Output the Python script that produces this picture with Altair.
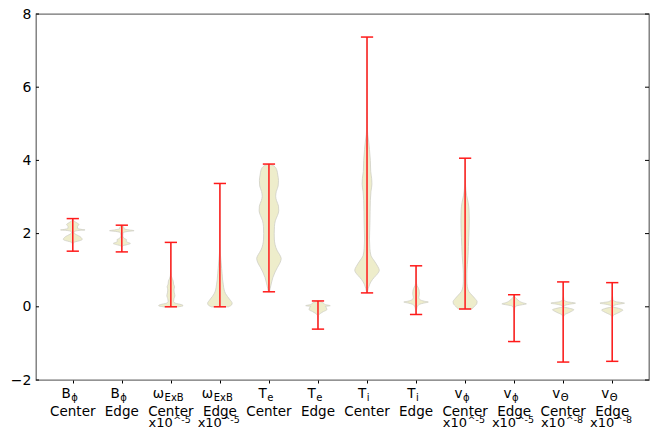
import altair as alt
import pandas as pd

# ---- data ----
BASE = ["B", "B", "ω", "ω", "T", "T", "T", "T", "v", "v", "v", "v"]
SUB = ["ϕ", "ϕ", "ExB", "ExB", "e", "e", "i", "i", "ϕ", "ϕ", "Θ", "Θ"]
LOC = ["Center", "Edge", "Center", "Edge", "Center", "Edge",
       "Center", "Edge", "Center", "Edge", "Center", "Edge"]
MULT = ["", "", "x10^-5", "x10^-5", "", "", "", "", "x10^-5", "x10^-5", "x10^-8", "x10^-8"]
POS = [1, 2, 3, 4, 5, 6, 7, 8, 9, 10, 11, 12]

VMAX = [2.41, 2.23, 1.76, 3.37, 3.90, 0.16, 7.37, 1.12, 4.06, 0.33, 0.68, 0.66]
VMIN = [1.52, 1.50, 0.00, 0.00, 0.41, -0.61, 0.38, -0.21, -0.06, -0.95, -1.51, -1.49]

# violin outlines: value (y) and relative half-width (w, 1 = widest)
PROFILE_Y = [
    [2.41, 2.36, 2.30, 2.25, 2.19, 2.14, 2.11, 2.10, 2.09, 2.06, 2.02, 1.97, 1.92, 1.87, 1.84, 1.81, 1.78, 1.75, 1.65, 1.52],
    [2.23, 2.18, 2.13, 2.10, 2.08, 2.06, 2.02, 1.95, 1.88, 1.83, 1.79, 1.76, 1.73, 1.70, 1.66, 1.58, 1.50],
    [1.76, 1.40, 1.00, 0.85, 0.78, 0.70, 0.62, 0.55, 0.46, 0.38, 0.30, 0.22, 0.15, 0.10, 0.06, 0.03, 0.00],
    [3.37, 2.50, 2.00, 1.50, 1.28, 1.05, 0.90, 0.73, 0.60, 0.46, 0.37, 0.28, 0.18, 0.10, 0.05, 0.00],
    [3.90, 3.85, 3.75, 3.60, 3.45, 3.30, 3.15, 3.02, 2.90, 2.75, 2.62, 2.50, 2.35, 2.20, 2.00, 1.85, 1.70, 1.55, 1.42, 1.32, 1.20, 1.08, 0.95, 0.80, 0.65, 0.50, 0.41],
    [0.16, 0.13, 0.10, 0.06, 0.03, 0.01, -0.03, -0.08, -0.13, -0.18, -0.24, -0.35, -0.61],
    [7.37, 6.00, 5.00, 4.70, 4.50, 4.30, 4.00, 3.70, 3.50, 3.35, 3.15, 2.90, 2.60, 2.35, 2.10, 1.85, 1.60, 1.40, 1.25, 1.10, 1.00, 0.90, 0.80, 0.70, 0.60, 0.50, 0.38],
    [1.12, 0.90, 0.70, 0.58, 0.50, 0.42, 0.34, 0.26, 0.20, 0.15, 0.13, 0.10, 0.07, 0.03, -0.02, -0.10, -0.21],
    [4.06, 3.60, 3.30, 3.05, 2.85, 2.65, 2.40, 2.15, 1.90, 1.65, 1.40, 1.15, 0.90, 0.70, 0.55, 0.42, 0.32, 0.22, 0.14, 0.08, 0.02, -0.06],
    [0.33, 0.28, 0.22, 0.16, 0.11, 0.08, 0.05, 0.02, -0.05, -0.30, -0.95],
    [0.68, 0.40, 0.20, 0.14, 0.10, 0.07, 0.03, 0.00, -0.04, -0.08, -0.12, -0.17, -0.22, -0.30, -0.80, -1.51],
    [0.66, 0.40, 0.20, 0.14, 0.10, 0.07, 0.03, 0.00, -0.04, -0.09, -0.13, -0.18, -0.23, -0.30, -0.80, -1.49],
]
PROFILE_W = [
    [0.0, 0.05, 0.30, 0.50, 0.38, 0.40, 0.80, 1.00, 0.60, 0.15, 0.10, 0.30, 0.58, 0.74, 0.77, 0.60, 0.25, 0.05, 0.01, 0.0],
    [0.0, 0.15, 0.20, 0.60, 1.00, 0.50, 0.10, 0.08, 0.15, 0.40, 0.35, 0.50, 0.70, 0.45, 0.05, 0.01, 0.0],
    [0.0, 0.005, 0.01, 0.04, 0.10, 0.20, 0.22, 0.30, 0.25, 0.28, 0.33, 0.25, 0.22, 0.35, 0.85, 1.00, 0.60],
    [0.0, 0.005, 0.01, 0.03, 0.08, 0.14, 0.18, 0.22, 0.28, 0.35, 0.45, 0.62, 0.85, 1.00, 0.95, 0.70],
    [0.05, 0.40, 0.63, 0.72, 0.78, 0.75, 0.60, 0.55, 0.62, 0.78, 0.80, 0.70, 0.52, 0.45, 0.43, 0.44, 0.50, 0.65, 0.88, 1.00, 0.90, 0.70, 0.50, 0.32, 0.20, 0.10, 0.04],
    [0.0, 0.30, 0.45, 0.60, 1.00, 0.60, 0.70, 0.72, 0.45, 0.20, 0.04, 0.01, 0.0],
    [0.0, 0.005, 0.02, 0.06, 0.14, 0.20, 0.27, 0.30, 0.38, 0.40, 0.32, 0.27, 0.25, 0.24, 0.22, 0.20, 0.23, 0.32, 0.60, 0.88, 1.00, 0.85, 0.58, 0.35, 0.20, 0.10, 0.02],
    [0.0, 0.005, 0.02, 0.08, 0.20, 0.26, 0.27, 0.22, 0.30, 0.70, 1.00, 0.60, 0.30, 0.15, 0.08, 0.03, 0.0],
    [0.0, 0.01, 0.04, 0.12, 0.25, 0.32, 0.34, 0.33, 0.30, 0.27, 0.24, 0.18, 0.14, 0.14, 0.18, 0.30, 0.55, 0.82, 0.98, 0.95, 0.78, 0.55],
    [0.0, 0.05, 0.20, 0.40, 0.70, 1.00, 0.55, 0.15, 0.04, 0.01, 0.0],
    [0.0, 0.01, 0.05, 0.30, 1.00, 0.50, 0.10, 0.05, 0.50, 0.87, 0.70, 0.40, 0.10, 0.02, 0.005, 0.0],
    [0.0, 0.01, 0.05, 0.30, 1.00, 0.50, 0.10, 0.06, 0.50, 0.87, 0.70, 0.40, 0.10, 0.02, 0.005, 0.0],
]
YTICKS = [-2, 0, 2, 4, 6, 8]

# ---- layout ----
W, H = 613, 366
XDOM = [0.25, 12.75]
PPU = W / (XDOM[1] - XDOM[0])
HALF = 0.25  # violin half width (widths = 0.5)
CAP = 0.125
FONT = "DejaVu Sans"
FILL = "#eeedcb"
EDGE = "#cfcfc6"
RED = "#ff1a1a"

xs = alt.Scale(domain=XDOM, nice=False, zero=False)
ys = alt.Scale(domain=[-2, 8], nice=False, zero=False)

rows = []
for i, (yy, ww) in enumerate(zip(PROFILE_Y, PROFILE_W)):
    for y, w in zip(yy, ww):
        rows.append({"cat": i, "pos": POS[i], "y": y, "w": w})
vdf = pd.DataFrame(rows).sort_values(["cat", "y"]).reset_index(drop=True)
vdf["left"] = vdf["pos"] - vdf["w"] * HALF
vdf["right"] = vdf["pos"] + vdf["w"] * HALF

edf = pd.DataFrame({"pos": POS, "vmin": VMIN, "vmax": VMAX})
edf["cl"] = edf["pos"] - CAP
edf["cr"] = edf["pos"] + CAP

# label table
base_w = {"B": 8.6, "ω": 10.5, "T": 7.7, "v": 7.4}
sub_w = {"ϕ": 6.5, "ExB": 18.0, "e": 6.0, "i": 3.0, "Θ": 7.5}
lrows = []
for i in range(12):
    join_px = -3.0 - (sub_w[SUB[i]] - base_w[BASE[i]]) / 2.0
    m = MULT[i]
    lrows.append({
        "pos": POS[i], "base": BASE[i], "sub": SUB[i], "loc": LOC[i],
        "xj": POS[i] + join_px / PPU, "xs": POS[i] + (join_px + 0.5) / PPU,
        "m1": m[:3], "m2": m[3:],
        "xm1": POS[i] + 2.0 / PPU, "xm2": POS[i] + 2.5 / PPU,
    })
ldf = pd.DataFrame(lrows)

yaxis = alt.Axis(values=YTICKS, ticks=False, domain=False, grid=False,
                 labelFontSize=14, labelFont="DejaVu Sans", labelColor="black",
                 labelPadding=5, title=None)
xaxis = alt.Axis(values=POS, labels=False, domain=False, grid=False,
                 ticks=True, tickSize=3, tickColor="black", title=None)

violins = alt.Chart(vdf).mark_area(
    orient="horizontal", fill=FILL, stroke=EDGE, strokeWidth=0.8,
    interpolate="monotone"
).encode(
    y=alt.Y("y:Q", scale=ys, axis=yaxis),
    x=alt.X("left:Q", scale=xs, axis=xaxis, stack=None),
    x2="right:Q",
    detail="cat:N",
)

bars = alt.Chart(edf).mark_rule(color=RED, strokeWidth=1.5).encode(
    x=alt.X("pos:Q", scale=xs), y=alt.Y("vmin:Q", scale=ys), y2="vmax:Q")
cap_lo = alt.Chart(edf).mark_rule(color=RED, strokeWidth=1.5).encode(
    x=alt.X("cl:Q", scale=xs), x2="cr:Q", y=alt.Y("vmin:Q", scale=ys))
cap_hi = alt.Chart(edf).mark_rule(color=RED, strokeWidth=1.5).encode(
    x=alt.X("cl:Q", scale=xs), x2="cr:Q", y=alt.Y("vmax:Q", scale=ys))

tdf = pd.DataFrame({"v": YTICKS})
tick_l = alt.Chart(tdf).mark_rule(color="black", strokeWidth=1).encode(
    y=alt.Y("v:Q", scale=ys), x=alt.value(0), x2=alt.value(3))
tick_r = alt.Chart(tdf).mark_rule(color="black", strokeWidth=1).encode(
    y=alt.Y("v:Q", scale=ys), x=alt.value(W - 4), x2=alt.value(W))

lab_base = alt.Chart(ldf).mark_text(align="right", baseline="alphabetic",
                                    fontSize=13.5, font=FONT, color="black").encode(
    x=alt.X("xj:Q", scale=xs), y=alt.value(384), text="base:N")
lab_sub = alt.Chart(ldf).mark_text(align="left", baseline="alphabetic",
                                   fontSize=10, font=FONT, color="black").encode(
    x=alt.X("xs:Q", scale=xs), y=alt.value(387), text="sub:N")
lab_loc = alt.Chart(ldf).mark_text(align="center", baseline="alphabetic",
                                   fontSize=13.5, font=FONT, color="black").encode(
    x=alt.X("pos:Q", scale=xs), y=alt.value(401.5), text="loc:N")
lab_m1 = alt.Chart(ldf).mark_text(align="right", baseline="alphabetic",
                                  fontSize=13, font=FONT, color="black").encode(
    x=alt.X("xm1:Q", scale=xs), y=alt.value(412.5), text="m1:N")
lab_m2 = alt.Chart(ldf).mark_text(align="left", baseline="alphabetic",
                                  fontSize=9.5, font=FONT, color="black").encode(
    x=alt.X("xm2:Q", scale=xs), y=alt.value(409), text="m2:N")

chart = alt.layer(
    violins, bars, cap_lo, cap_hi, tick_l, tick_r,
    lab_base, lab_sub, lab_loc, lab_m1, lab_m2
).properties(
    width=W, height=H,
    autosize=alt.AutoSizeParams(type="none"),
    padding={"left": 28, "top": 6, "right": 2, "bottom": 56},
    background="white",
).configure_view(stroke="#707070", strokeWidth=1.3)

chart.save("out.html", embed_options={"renderer": "svg", "actions": False})
